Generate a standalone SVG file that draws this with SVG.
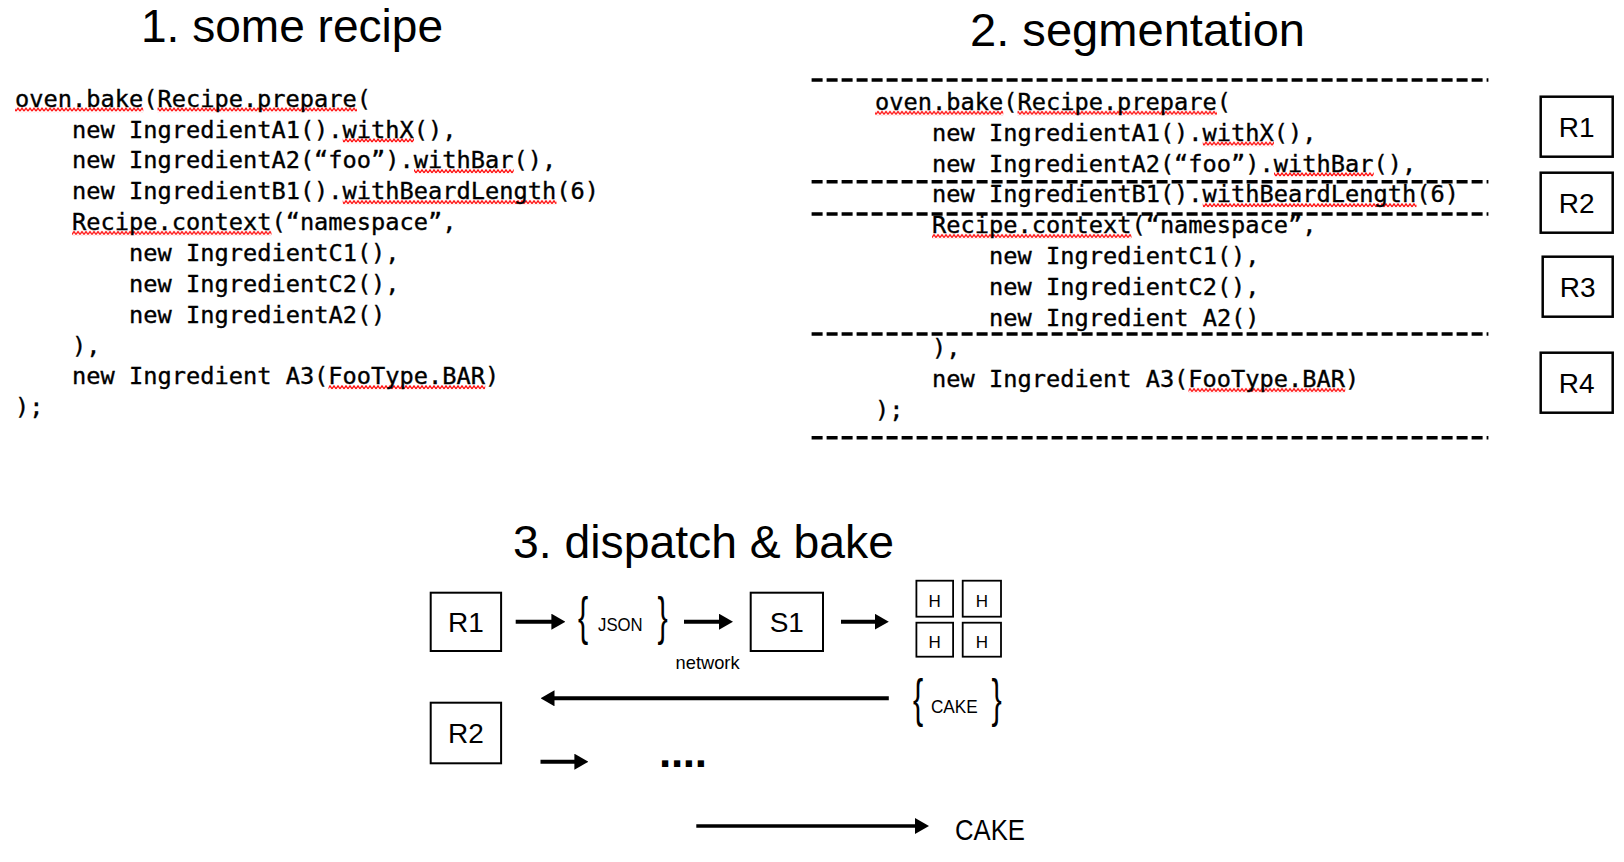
<svg xmlns="http://www.w3.org/2000/svg" width="1624" height="862" viewBox="0 0 1624 862">
<style>
.title{font-family:"Liberation Sans",Arial,sans-serif;font-size:46px;fill:#000}
.code{font-family:"DejaVu Sans Mono","Liberation Mono",monospace;font-size:23.67px;fill:#000;stroke:#000;stroke-width:0.35}
.box{fill:#fff;stroke:#000;stroke-width:2}
.rbox{fill:#fff;stroke:#000;stroke-width:2.5}
.lbl{font-family:"Liberation Sans",Arial,sans-serif;font-size:28px;text-anchor:middle;fill:#000}
.h{font-family:"Liberation Sans",Arial,sans-serif;font-size:17px;text-anchor:middle;fill:#000}
.sm{font-family:"Liberation Sans",Arial,sans-serif;fill:#000}
.brace{font-family:"Liberation Sans",Arial,sans-serif;font-size:51px;fill:#000}
.dash{stroke:#000;stroke-width:3.5;stroke-dasharray:11 4;fill:none}
.arrow{stroke:#000;stroke-width:4;fill:none;marker-end:url(#ah)}
.sq{fill:url(#squig)}
</style>
<defs>
<marker id="ah" markerUnits="userSpaceOnUse" markerWidth="14" markerHeight="16" viewBox="0 0 14 16" refX="1" refY="8" orient="auto">
<path d="M0,0 L14,8 L0,16 z" fill="#000"/>
</marker>
<pattern id="squig" width="4" height="5" patternUnits="userSpaceOnUse">
<path d="M0,4 L2,1 L4,4" stroke="#ff0000" stroke-width="1.3" fill="none"/>
</pattern>
</defs>

<!-- titles -->
<text class="title" x="141" y="41.7" textLength="302" lengthAdjust="spacingAndGlyphs">1. some recipe</text>
<text class="title" x="970" y="45.6" textLength="335" lengthAdjust="spacingAndGlyphs">2. segmentation</text>
<text class="title" x="513" y="558.3" textLength="381" lengthAdjust="spacingAndGlyphs">3. dispatch &amp; bake</text>

<!-- section 1: recipe code -->
<g id="recipe-code">
<g class="sq-lines">
<rect class="sq" x="15" y="0" width="128.25" height="5" transform="translate(0,107.2)"/>
<rect class="sq" x="157.5" y="0" width="199.5" height="5" transform="translate(0,107.2)"/>
<rect class="sq" x="342.75" y="0" width="71.25" height="5" transform="translate(0,138.1)"/>
<rect class="sq" x="414" y="0" width="99.75" height="5" transform="translate(0,168.9)"/>
<rect class="sq" x="342.75" y="0" width="213.75" height="5" transform="translate(0,199.8)"/>
<rect class="sq" x="72" y="0" width="199.5" height="5" transform="translate(0,230.6)"/>
<rect class="sq" x="328.5" y="0" width="156.75" height="5" transform="translate(0,384.9)"/>
</g>
<text class="code" x="15" y="106.7">oven.bake(Recipe.prepare(</text>
<text class="code" x="72" y="137.56">new IngredientA1().withX(),</text>
<text class="code" x="72" y="168.42">new IngredientA2(“foo”).withBar(),</text>
<text class="code" x="72" y="199.28">new IngredientB1().withBeardLength(6)</text>
<text class="code" x="72" y="230.14">Recipe.context(“namespace”,</text>
<text class="code" x="129" y="261">new IngredientC1(),</text>
<text class="code" x="129" y="291.86">new IngredientC2(),</text>
<text class="code" x="129" y="322.72">new IngredientA2()</text>
<text class="code" x="72" y="353.58">),</text>
<text class="code" x="72" y="384.44">new Ingredient A3(FooType.BAR)</text>
<text class="code" x="15" y="415.3">);</text>
</g>

<!-- section 2: segmentation -->
<g id="segmentation-code">
<g class="sq-lines">
<rect class="sq" x="875" y="0" width="128.25" height="5" transform="translate(0,110.5)"/>
<rect class="sq" x="1017.5" y="0" width="199.5" height="5" transform="translate(0,110.5)"/>
<rect class="sq" x="1202.75" y="0" width="71.25" height="5" transform="translate(0,141.3)"/>
<rect class="sq" x="1274" y="0" width="99.75" height="5" transform="translate(0,172.1)"/>
<rect class="sq" x="1202.75" y="0" width="213.75" height="5" transform="translate(0,202.9)"/>
<rect class="sq" x="932" y="0" width="199.5" height="5" transform="translate(0,233.7)"/>
<rect class="sq" x="1188.5" y="0" width="156.75" height="5" transform="translate(0,387.7)"/>
</g>
<text class="code" x="875" y="110">oven.bake(Recipe.prepare(</text>
<text class="code" x="932" y="140.8">new IngredientA1().withX(),</text>
<text class="code" x="932" y="171.6">new IngredientA2(“foo”).withBar(),</text>
<text class="code" x="932" y="202.4">new IngredientB1().withBeardLength(6)</text>
<text class="code" x="932" y="233.2">Recipe.context(“namespace”,</text>
<text class="code" x="989" y="264">new IngredientC1(),</text>
<text class="code" x="989" y="294.8">new IngredientC2(),</text>
<text class="code" x="989" y="325.6">new Ingredient A2()</text>
<text class="code" x="932" y="356.4">),</text>
<text class="code" x="932" y="387.2">new Ingredient A3(FooType.BAR)</text>
<text class="code" x="875" y="418">);</text>
</g>

<g id="segment-separators">
<line class="dash" x1="811.6" y1="80" x2="1488.4" y2="80"/>
<line class="dash" x1="811.6" y1="181.7" x2="1488.4" y2="181.7"/>
<line class="dash" x1="811.6" y1="214" x2="1488.4" y2="214"/>
<line class="dash" x1="811.6" y1="334" x2="1488.4" y2="334"/>
<line class="dash" x1="811.6" y1="437.7" x2="1488.4" y2="437.7"/>
</g>

<g id="seg-R1"><rect class="rbox" x="1540.7" y="96.7" width="72" height="60"/><text class="lbl" x="1576.7" y="136.9">R1</text></g>
<g id="seg-R2"><rect class="rbox" x="1540.7" y="172.7" width="72" height="60"/><text class="lbl" x="1576.7" y="212.9">R2</text></g>
<g id="seg-R3"><rect class="rbox" x="1542.7" y="256.7" width="70" height="60"/><text class="lbl" x="1577.7" y="296.9">R3</text></g>
<g id="seg-R4"><rect class="rbox" x="1540.7" y="352.7" width="72" height="60"/><text class="lbl" x="1576.7" y="392.9">R4</text></g>

<!-- section 3: dispatch & bake -->
<g id="connectors">
<line class="arrow" x1="515.7" y1="621.7" x2="552.4" y2="621.7"/>
<line class="arrow" x1="684" y1="621.7" x2="720" y2="621.7"/>
<line class="arrow" x1="841" y1="621.7" x2="875.8" y2="621.7"/>
<line class="arrow" x1="888.8" y1="698.3" x2="553.5" y2="698.3"/>
<line class="arrow" x1="540.5" y1="761.7" x2="575.4" y2="761.7"/>
<line class="arrow" x1="696.3" y1="826" x2="916" y2="826" style="stroke-width:3.5"/>
</g>

<g id="d-R1"><rect class="box" x="430.7" y="592.7" width="70.4" height="58.3"/><text class="lbl" x="465.9" y="631.7">R1</text></g>
<g id="d-JSON">
<text class="brace" transform="translate(578,634) scale(0.6,1)">{</text>
<text class="sm" x="598" y="630.7" font-size="18" textLength="44.7" lengthAdjust="spacingAndGlyphs">JSON</text>
<text class="brace" transform="translate(657.4,634) scale(0.6,1)">}</text>
</g>
<g id="d-network"><text class="sm" x="675.6" y="669.3" font-size="19" textLength="64" lengthAdjust="spacingAndGlyphs">network</text></g>
<g id="d-S1"><rect class="box" x="750.7" y="592.7" width="72.3" height="58.3"/><text class="lbl" x="786.8" y="631.7">S1</text></g>
<g id="d-H1"><rect class="box" x="916.4" y="580.7" width="36.7" height="36" style="stroke-width:1.8"/><text class="h" x="934.7" y="606.7">H</text></g>
<g id="d-H2"><rect class="box" x="962.7" y="580.7" width="38.3" height="36" style="stroke-width:1.8"/><text class="h" x="981.8" y="606.7">H</text></g>
<g id="d-H3"><rect class="box" x="916.4" y="622.7" width="36.7" height="34" style="stroke-width:1.8"/><text class="h" x="934.7" y="647.7">H</text></g>
<g id="d-H4"><rect class="box" x="962.7" y="622.7" width="38.3" height="34" style="stroke-width:1.8"/><text class="h" x="981.8" y="647.7">H</text></g>
<g id="d-CAKE-msg">
<text class="brace" transform="translate(912.9,715.5) scale(0.6,1)">{</text>
<text class="sm" x="930.9" y="712.7" font-size="19" textLength="46.7" lengthAdjust="spacingAndGlyphs">CAKE</text>
<text class="brace" transform="translate(991.4,715.5) scale(0.6,1)">}</text>
</g>
<g id="d-R2"><rect class="box" x="430.7" y="702.7" width="70.4" height="60.6"/><text class="lbl" x="465.9" y="743.3">R2</text></g>
<g id="d-dots"><text class="sm" x="659" y="766.7" font-size="44" font-weight="bold" letter-spacing="-0.3">....</text></g>
<g id="d-CAKE"><text class="sm" x="955" y="840" font-size="30" textLength="70" lengthAdjust="spacingAndGlyphs">CAKE</text></g>
</svg>
